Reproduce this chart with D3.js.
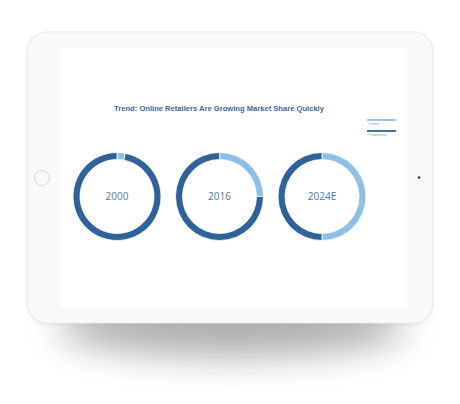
<!DOCTYPE html>
<html><head><meta charset="utf-8">
<script src="https://cdn.jsdelivr.net/npm/d3@7"></script>
<style>html,body{margin:0;padding:0;background:#fff;}svg{display:block;}</style>
</head><body>
<script>
const years = ["2000", "2016", "2024E"];
const seriesNames = ["Online", "Traditional"];
const onlineShare = [3, 25, 50];
const traditionalShare = [97, 75, 50];
const colors = ["#8ebfe7", "#2f6298"];

const W = 460, H = 404;
const svg = d3.select("body").append("svg").attr("width", W).attr("height", H);
const defs = svg.append("defs");
const f = defs.append("filter").attr("id", "sh").attr("x", "-40%").attr("y", "-80%").attr("width", "180%").attr("height", "260%");
f.append("feGaussianBlur").attr("stdDeviation", 18);
const g2 = defs.append("filter").attr("id", "sh2").attr("x", "-10%").attr("y", "-10%").attr("width", "120%").attr("height", "120%");
g2.append("feGaussianBlur").attr("stdDeviation", 2);

// shadow
svg.append("ellipse").attr("cx", 232).attr("cy", 326).attr("rx", 175).attr("ry", 30)
  .attr("fill", "#000").attr("opacity", 0.32).attr("filter", "url(#sh)");
svg.append("rect").attr("x", 27).attr("y", 33).attr("width", 406).attr("height", 291).attr("rx", 20)
  .attr("fill", "#000").attr("opacity", 0.08).attr("filter", "url(#sh2)");
// tablet body
svg.append("rect").attr("x", 27).attr("y", 32).attr("width", 406).attr("height", 291).attr("rx", 20)
  .attr("fill", "#f9f9f9").attr("stroke", "#ececec").attr("stroke-width", 1.2);
// screen
svg.append("rect").attr("x", 60).attr("y", 48).attr("width", 347).attr("height", 260).attr("fill", "#fff");
// home button
svg.append("circle").attr("cx", 42).attr("cy", 178).attr("r", 7.5).attr("fill", "none").attr("stroke", "#d8d8d8").attr("stroke-width", 1);
// camera
svg.append("circle").attr("cx", 419).attr("cy", 177.5).attr("r", 1.3).attr("fill", "#333");

// title
svg.append("text").attr("x", 219).attr("y", 111).attr("text-anchor", "middle")
  .attr("font-family", "Liberation Sans, Arial, sans-serif").attr("font-weight", "bold").attr("font-size", 7.6)
  .attr("fill", "#3d6aa0").text("Trend: Online Retailers Are Growing Market Share Quickly");

// legend
const leg = svg.append("g");
seriesNames.forEach((n, i) => {
  const y = 120 + i * 11;
  leg.append("line").attr("x1", 367).attr("x2", 396).attr("y1", y).attr("y2", y)
    .attr("stroke", colors[i]).attr("stroke-width", 1.8);
  leg.append("text").attr("x", 368).attr("y", y + 5).attr("font-family", "Liberation Sans, Arial, sans-serif")
    .attr("font-size", 4).attr("fill", "#999").text(n);
});

// donuts
const x = d3.scalePoint().domain(years).range([117, 322]);
const pie = d3.pie().sort(null).value(d => d);
const arc = d3.arc().innerRadius(37).outerRadius(44);
years.forEach((yr, i) => {
  const g = svg.append("g").attr("transform", `translate(${x(yr)},196.5)`);
  g.selectAll("path").data(pie([onlineShare[i], traditionalShare[i]])).join("path")
    .attr("d", arc).attr("fill", (d, j) => colors[j]).attr("stroke", "#fff").attr("stroke-width", 0.8);
  g.append("text").attr("text-anchor", "middle").attr("dy", "0.35em")
    .attr("font-family", "Open Sans, sans-serif").attr("font-size", 10).attr("fill", "#4a78ad").text(yr);
});
</script>
</body></html>
